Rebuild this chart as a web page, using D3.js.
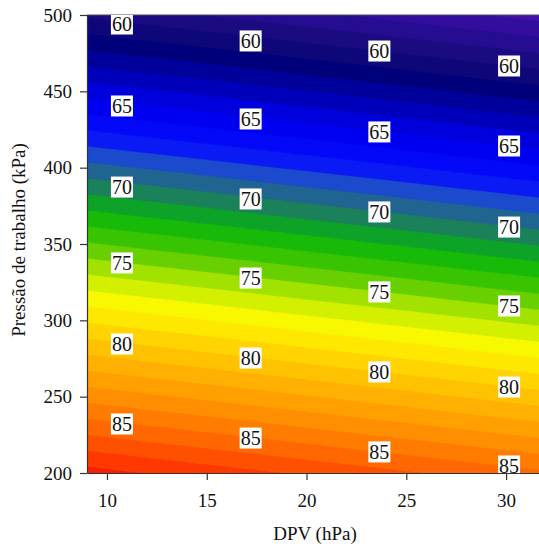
<!DOCTYPE html>
<html>
<head>
<meta charset="utf-8">
<script src="https://cdn.jsdelivr.net/npm/d3@7"></script>
<style>
  html, body { margin: 0; padding: 0; background: #fff; }
  svg { display: block; }
</style>
</head>
<body>
<svg id="chart" width="539" height="549"></svg>
<script>
// Response surface sampled on a regular grid (rows: working pressure, cols: DPV)
const dpvGrid = [8, 12, 16, 20, 24, 28, 32];            // hPa
const pressureGrid = [200, 250, 300, 350, 400, 450, 500]; // kPa
const surfaceValues = [
  [88.51, 87.94, 87.38, 86.81, 86.25, 85.68, 85.12], // 200 kPa
  [83.75, 83.18, 82.62, 82.05, 81.49, 80.92, 80.36], // 250 kPa
  [78.99, 78.42, 77.86, 77.29, 76.73, 76.16, 75.60], // 300 kPa
  [74.23, 73.66, 73.10, 72.53, 71.97, 71.40, 70.84], // 350 kPa
  [69.47, 68.90, 68.34, 67.77, 67.21, 66.64, 66.08], // 400 kPa
  [64.71, 64.14, 63.58, 63.01, 62.45, 61.88, 61.32], // 450 kPa
  [59.95, 59.38, 58.82, 58.25, 57.69, 57.12, 56.56]  // 500 kPa
];

// Band thresholds (one band per unit)
const bandThresholds = d3.range(55, 91, 1);

// Contour labels: levels, the DPV column where they sit, and their pressures
const labelLevels = [60, 65, 70, 75, 80, 85];
const labelDpv = [10.75, 17.2, 23.65, 30.15];
const labelPressure = [
  [494.1, 440.4, 387.3, 337.6, 284.5, 232.1],
  [483.0, 431.9, 379.5, 327.7, 275.3, 222.9],
  [476.4, 423.4, 371.0, 318.6, 266.2, 213.8],
  [466.6, 414.2, 361.1, 309.4, 256.3, 204.6]
];

// Axis ticks
const xTicks = [10, 15, 20, 25, 30];
const yTicks = [200, 250, 300, 350, 400, 450, 500];

// Rainbow colour ramp (value -> colour)
const rampValues = [56.5, 58, 60, 61.5, 63, 64.5, 66, 67.6, 68.4, 69.3, 70.3, 71.3, 72.3,
                    73.5, 74.5, 75.5, 76.5, 77.5, 78.5, 79.5, 80.5, 81.5, 82.5, 83.5,
                    84.5, 85.5, 86.5, 87.5, 88.5];
const rampColors = ["#4212aa", "#2c0c98", "#150a78", "#00007a", "#0000aa", "#0000dc", "#0000fa",
                    "#0a1cf4", "#1a48d2", "#205e9c", "#1e7a66", "#0c9c30", "#10b80a",
                    "#38c400", "#68d000", "#a2e200", "#d2f000", "#f8f800", "#ffe800",
                    "#ffd400", "#ffc200", "#ffb000", "#ffa000", "#ff8e00", "#ff7c00",
                    "#ff6800", "#ff5000", "#ff3800", "#f82000"];

const serif = '"Liberation Serif", "Times New Roman", Times, serif';
const fontSize = 19;

const W = 539, H = 549;
const svg = d3.select("#chart");

const x = d3.scaleLinear().domain([9, 32]).range([87, 546]);
const y = d3.scaleLinear().domain([200, 500]).range([473, 15]);
const color = d3.scaleLinear().domain(rampValues).range(rampColors).clamp(true);

const plotLeft = x(9), plotRight = W, plotTop = y(500), plotBottom = y(200);

svg.append("defs").append("clipPath").attr("id", "plot-clip")
  .append("rect")
  .attr("x", plotLeft).attr("y", plotTop)
  .attr("width", plotRight - plotLeft).attr("height", plotBottom - plotTop);

// Filled contour bands
const nx = dpvGrid.length, ny = pressureGrid.length;
const flat = [];
surfaceValues.forEach(row => row.forEach(v => flat.push(v)));

const dStep = dpvGrid[1] - dpvGrid[0];
const pStep = pressureGrid[1] - pressureGrid[0];
const gridToScreen = d3.geoTransform({
  point(c, r) {
    const dpv = dpvGrid[0] + (c - 0.5) * dStep;
    const p = pressureGrid[0] + (r - 0.5) * pStep;
    this.stream.point(x(dpv), y(p));
  }
});
const path = d3.geoPath(gridToScreen);

const bands = d3.contours().size([nx, ny]).thresholds(bandThresholds)(flat);

svg.append("g").attr("clip-path", "url(#plot-clip)")
  .selectAll("path")
  .data(bands)
  .join("path")
  .attr("d", path)
  .attr("fill", d => color(d.value + 0.5))
  .attr("stroke", d => color(d.value + 0.5))
  .attr("stroke-width", 0.4);

// Frame top line
svg.append("line")
  .attr("x1", plotLeft).attr("x2", plotRight)
  .attr("y1", plotTop).attr("y2", plotTop)
  .attr("stroke", "#4a4a5a").attr("stroke-width", 1);

// Axes
const gx = svg.append("g")
  .attr("transform", `translate(0,${plotBottom})`)
  .call(d3.axisBottom(x).tickValues(xTicks).tickSize(7).tickSizeOuter(0).tickPadding(14)
        .tickFormat(d3.format("d")));
const gy = svg.append("g")
  .attr("transform", `translate(${plotLeft},0)`)
  .call(d3.axisLeft(y).tickValues(yTicks).tickSize(7).tickSizeOuter(0).tickPadding(8)
        .tickFormat(d3.format("d")));

[gx, gy].forEach(g => {
  g.attr("font-family", serif).attr("font-size", fontSize);
  g.select(".domain").attr("stroke", "#333").attr("stroke-width", 1.2);
  g.selectAll(".tick line").attr("stroke", "#333").attr("stroke-width", 1.2);
  g.selectAll(".tick text").attr("fill", "#111")
    .style("font-family", serif).style("font-size", fontSize + "px");
});

// Axis titles
svg.append("text")
  .attr("x", 315).attr("y", 540)
  .attr("text-anchor", "middle")
  .attr("fill", "#111")
  .style("font-family", serif)
  .style("font-size", fontSize + "px")
  .text("DPV (hPa)");

svg.append("text")
  .attr("transform", "translate(25,240) rotate(-90)")
  .attr("text-anchor", "middle")
  .attr("fill", "#111")
  .style("font-family", serif)
  .style("font-size", fontSize + "px")
  .text("Pressão de trabalho (kPa)");

// Contour labels
const labelData = [];
labelDpv.forEach((d, i) => {
  labelLevels.forEach((lv, j) => {
    labelData.push({ dpv: d, p: labelPressure[i][j], level: lv });
  });
});

const lg = svg.append("g");
lg.append("g").attr("clip-path", "url(#plot-clip)")
  .selectAll("rect")
  .data(labelData)
  .join("rect")
  .attr("x", d => x(d.dpv) - 11)
  .attr("y", d => y(d.p) - 10.5)
  .attr("width", 22)
  .attr("height", 21)
  .attr("fill", "#fff");

lg.selectAll("text")
  .data(labelData)
  .join("text")
  .attr("x", d => x(d.dpv))
  .attr("y", d => y(d.p) + 6.6)
  .attr("text-anchor", "middle")
  .attr("fill", "#111")
  .style("font-family", serif)
  .style("font-size", "20px")
  .text(d => d.level);
</script>
</body>
</html>
